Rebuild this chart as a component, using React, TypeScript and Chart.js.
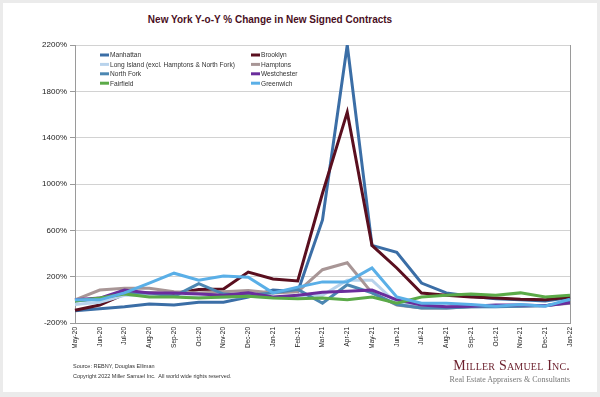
import React, { useEffect, useRef } from 'react';
import { Chart, registerables } from 'chart.js';

Chart.register(...registerables);

const months = ['May-20', 'Jun-20', 'Jul-20', 'Aug-20', 'Sep-20', 'Oct-20', 'Nov-20', 'Dec-20', 'Jan-21', 'Feb-21', 'Mar-21', 'Apr-21', 'May-21', 'Jun-21', 'Jul-21', 'Aug-21', 'Sep-21', 'Oct-21', 'Nov-21', 'Dec-21', 'Jan-22'];

const manhattan = [-95, -78, -60, -35, -45, -20, -20, 25, 85, 70, 690, 2200, 470, 410, 145, 60, 30, 10, 0, -10, 20];
const brooklyn = [-90, -45, 50, 60, 55, 90, 93, 240, 180, 163, 920, 1620, 470, 275, 59, 40, 25, 15, 5, 0, 25];
const longIsland = [-40, -20, 40, 40, 30, 20, 20, 30, 20, 30, 40, 170, 170, -30, -60, -70, -60, -60, -50, -50, -20];
const hamptons = [0, 85, 100, 100, 70, 60, 70, 80, 60, 70, 260, 320, 60, -45, -70, -70, -60, -55, -55, -50, -30];
const northFork = [-10, 10, 60, 60, 30, 140, 50, 40, 60, 90, -30, 130, 60, -40, -70, -70, -60, -60, -55, -50, -20];
const westchester = [0, 15, 85, 60, 60, 50, 40, 60, 25, 40, 65, 75, 85, 0, -45, -60, -55, -45, -45, -50, -25];
const fairfield = [-10, 15, 50, 25, 25, 15, 25, 30, 15, 10, 15, 0, 25, -30, 25, 40, 50, 40, 60, 25, 40];
const greenwich = [0, 0, 60, 145, 230, 170, 205, 195, 60, 110, 155, 155, 275, 25, -30, -30, -40, -55, -40, -55, 5];

const seriesNames = ['Manhattan', 'Brooklyn', 'Long Island (excl. Hamptons & North Fork)', 'Hamptons', 'North Fork', 'Westchester', 'Fairfield', 'Greenwich'];
const seriesValues = [manhattan, brooklyn, longIsland, hamptons, northFork, westchester, fairfield, greenwich];
const seriesColors = ['#3B6EA6', '#5A0F1F', '#B8D3EC', '#A89696', '#4C87B2', '#6A2D9C', '#5BAA48', '#5AAFE7'];

const yMin = -200;
const yMax = 2200;
const yStep = 400;

const legendPlugin = {
  id: 'insideLegend',
  afterDraw(chart: any) {
    const { ctx, chartArea } = chart;
    ctx.save();
    chart.data.datasets.forEach((ds: any, i: number) => {
      const col = i % 2;
      const row = Math.floor(i / 2);
      const x = chartArea.left + 25 + col * 151;
      const y = chartArea.top + 10 + row * 9.4;
      ctx.strokeStyle = ds.borderColor;
      ctx.lineWidth = 3;
      ctx.beginPath();
      ctx.moveTo(x, y);
      ctx.lineTo(x + 9, y);
      ctx.stroke();
      ctx.fillStyle = '#333';
      ctx.font = '6.6px "Liberation Sans", Arial, sans-serif';
      ctx.textBaseline = 'middle';
      ctx.textAlign = 'left';
      ctx.fillText(ds.label, x + 10, y + 0.5);
    });
    ctx.restore();
  },
};

export default function App() {
  const canvasRef = useRef<HTMLCanvasElement | null>(null);

  useEffect(() => {
    if (!canvasRef.current) return;
    const chart = new Chart(canvasRef.current, {
      type: 'line',
      data: {
        labels: months,
        datasets: seriesNames.map((name, i) => ({
          label: name,
          data: seriesValues[i],
          borderColor: seriesColors[i],
          backgroundColor: seriesColors[i],
          borderWidth: 3,
          pointRadius: 0,
          tension: 0,
          fill: false,
          order: -i,
        })),
      },
      options: {
        animation: false,
        responsive: false,
        devicePixelRatio: 1,
        layout: { padding: { top: 45, right: 30, left: 0, bottom: 49 } },
        plugins: {
          legend: { display: false },
          title: { display: false },
          tooltip: { enabled: false },
        },
        scales: {
          x: {
            type: 'category',
            offset: false,
            afterFit: (scale: any) => {
              scale.height = 25;
            },
            grid: {
              display: true,
              drawOnChartArea: true,
              drawTicks: false,
              color: (c: any) => (c.index === months.length - 1 ? '#9a9a9a' : 'rgba(0,0,0,0)'),
              lineWidth: 1,
            },
            border: { display: true, color: '#9a9a9a', width: 1 },
            ticks: {
              autoSkip: false,
              maxRotation: 90,
              minRotation: 90,
              padding: 4,
              color: '#222',
              font: { family: '"Liberation Sans", Arial, sans-serif', size: 6.5 },
            },
          },
          y: {
            min: yMin,
            max: yMax,
            afterFit: (scale: any) => {
              scale.width = 75;
            },
            grid: {
              color: '#d2d2d2',
              lineWidth: 1,
              tickLength: 5,
              tickColor: '#9a9a9a',
            },
            border: { display: true, color: '#9a9a9a', width: 1 },
            ticks: {
              stepSize: yStep,
              padding: 3,
              color: '#222',
              font: { family: '"Liberation Sans", Arial, sans-serif', size: 8 },
              callback: (v: any) => `${v}%`,
            },
          },
        },
      },
      plugins: [legendPlugin],
    });
    return () => chart.destroy();
  }, []);

  return (
    <div style={{ position: 'fixed', left: 0, top: 0, width: 600, height: 397, background: '#ebebeb', overflow: 'hidden' }}>
      <div style={{ position: 'absolute', left: 3, top: 3, width: 594, height: 389, background: '#ffffff' }} />
      <div
        style={{
          position: 'absolute',
          left: 0,
          top: 14,
          width: 540,
          textAlign: 'center',
          fontFamily: '"Liberation Sans", Arial, sans-serif',
          fontWeight: 'bold',
          fontSize: 10,
          color: '#4A0F1E',
          lineHeight: '12px',
        }}
      >
        New York Y-o-Y % Change in New Signed Contracts
      </div>
      <canvas ref={canvasRef} width={600} height={397} style={{ position: 'absolute', left: 0, top: 0, width: 600, height: 397 }} />
      <div
        style={{
          position: 'absolute',
          left: 73,
          top: 362,
          fontFamily: '"Liberation Sans", Arial, sans-serif',
          fontSize: 5.5,
          color: '#333',
          lineHeight: '9.5px',
          whiteSpace: 'pre',
        }}
      >
        <div>Source: REBNY, Douglas Elliman</div>
        <div>Copyright 2022 Miller Samuel Inc.  All world wide rights reserved.</div>
      </div>
      <div
        style={{
          position: 'absolute',
          right: 30,
          top: 358,
          textAlign: 'right',
          fontFamily: '"Liberation Serif", "DejaVu Serif", serif',
        }}
      >
        <div style={{ fontSize: 14, fontVariant: 'small-caps', color: '#6B1F2C', lineHeight: '16px', letterSpacing: 0.2 }}>Miller Samuel Inc.</div>
        <div style={{ fontSize: 8, color: '#777', lineHeight: '11px' }}>Real Estate Appraisers &amp; Consultants</div>
      </div>
    </div>
  );
}
